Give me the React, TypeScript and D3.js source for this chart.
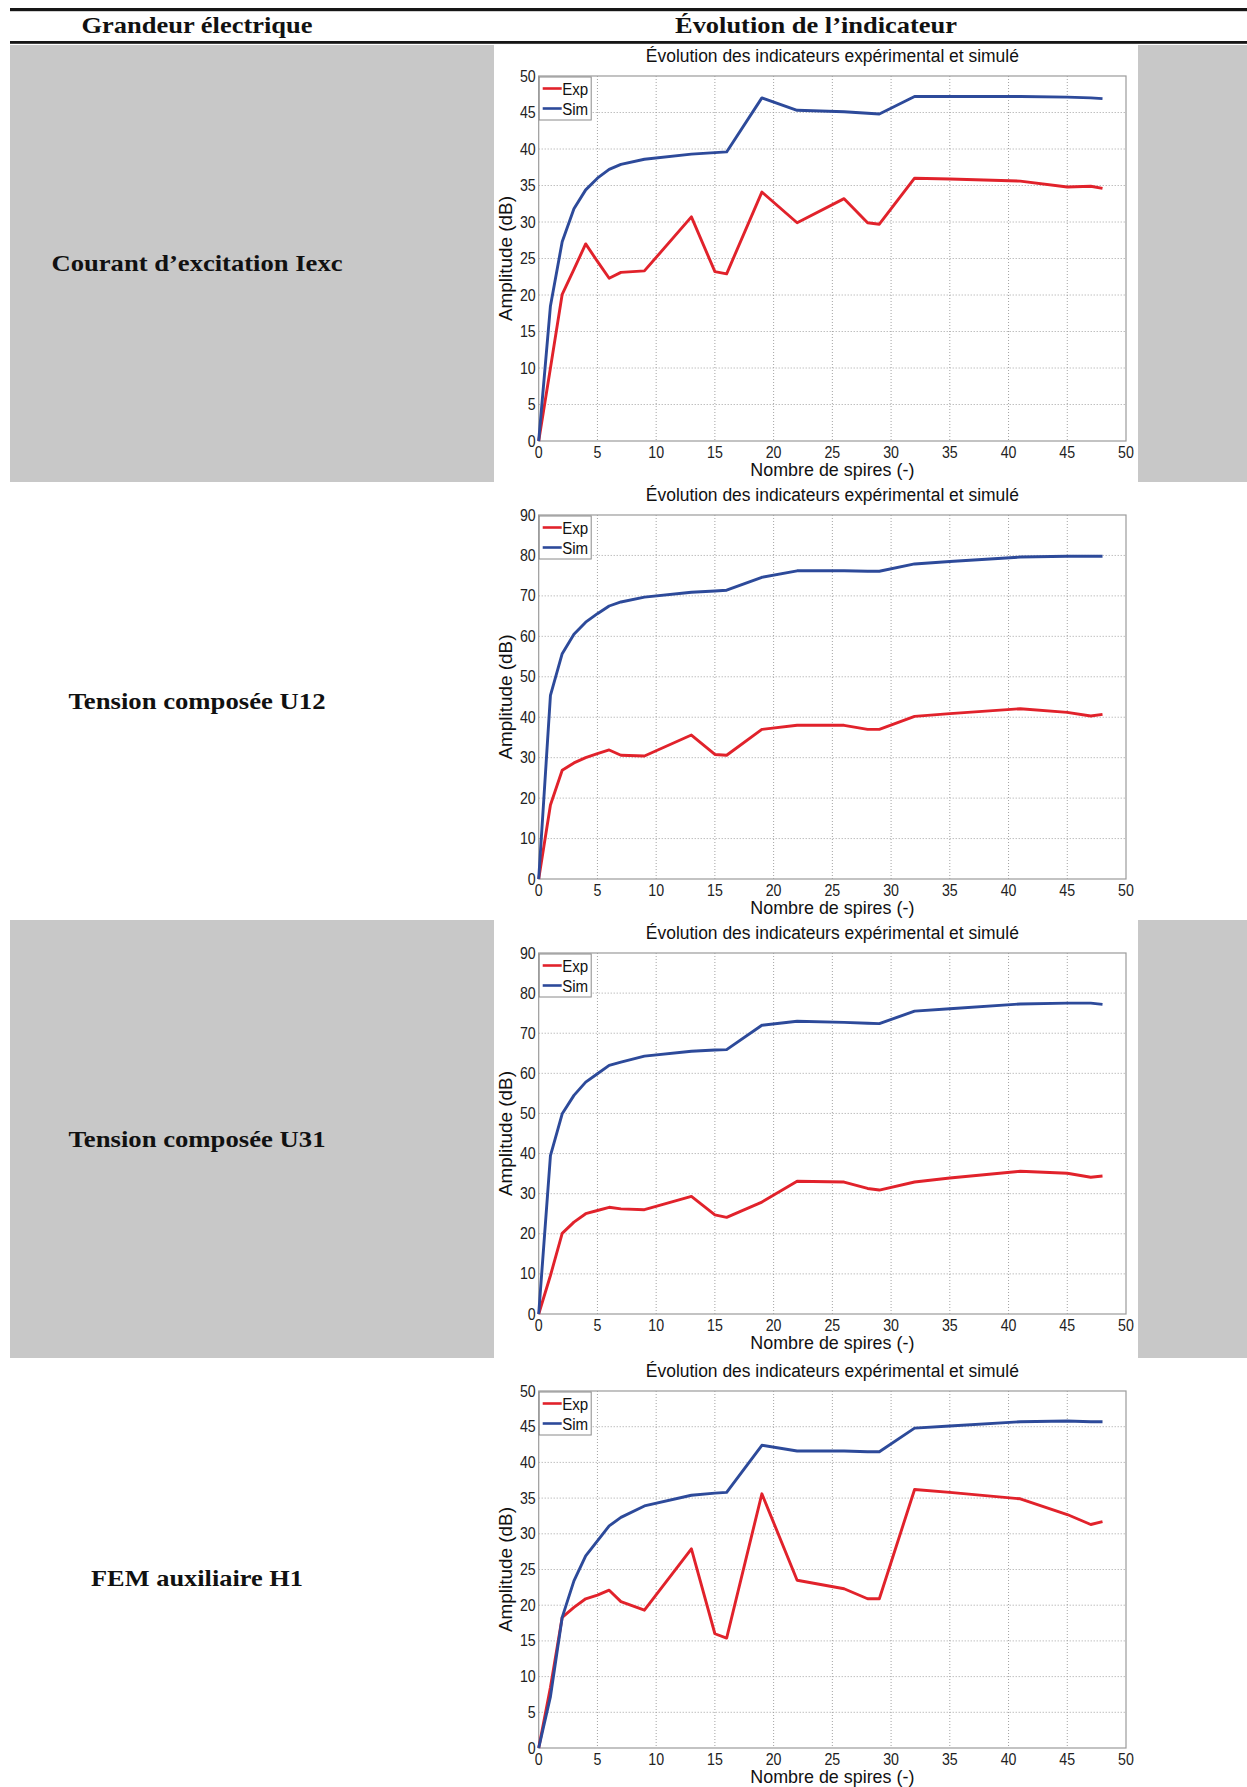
import React from "react";
import * as d3 from "d3";

// Number of short-circuited turns (x positions of measurements)
const SPIRES = [0, 1, 2, 3, 4, 5, 6, 7, 9, 13, 15, 16, 19, 22, 26, 28, 29, 32, 35, 41, 45, 47, 48];

const EXP_IEXC = [0, 10, 20.1, 23.5, 27, 24.6, 22.3, 23.1, 23.3, 30.7, 23.2, 22.9, 34.1, 29.9, 33.2, 29.9, 29.7, 36.0, 35.9, 35.6, 34.8, 34.9, 34.6];
const SIM_IEXC = [0, 18.5, 27.3, 31.8, 34.4, 36.0, 37.2, 37.9, 38.6, 39.3, 39.5, 39.6, 47.0, 45.3, 45.1, 44.9, 44.8, 47.2, 47.2, 47.2, 47.1, 47.0, 46.9];

const EXP_U12 = [0, 18.3, 26.9, 28.7, 30.0, 31.0, 31.9, 30.6, 30.4, 35.6, 30.8, 30.6, 37.0, 38.0, 38.0, 37.0, 37.0, 40.2, 40.9, 42.1, 41.2, 40.3, 40.7];
const SIM_U12 = [0, 45.4, 55.7, 60.5, 63.5, 65.6, 67.5, 68.5, 69.7, 70.9, 71.2, 71.4, 74.6, 76.2, 76.2, 76.1, 76.1, 77.9, 78.5, 79.6, 79.8, 79.8, 79.8];

const EXP_U31 = [0, 9.6, 20.1, 22.9, 25.0, 25.8, 26.6, 26.2, 26.0, 29.3, 24.7, 24.1, 27.9, 33.1, 32.9, 31.3, 30.9, 32.9, 33.9, 35.6, 35.1, 34.1, 34.4];
const SIM_U31 = [0, 39.5, 49.9, 54.5, 57.8, 59.9, 62.0, 62.8, 64.3, 65.5, 65.8, 65.9, 72.0, 73.0, 72.7, 72.5, 72.4, 75.5, 76.1, 77.3, 77.5, 77.5, 77.2];

const EXP_H1 = [0, 8.5, 18.3, 19.7, 20.9, 21.4, 22.1, 20.5, 19.3, 27.9, 16.0, 15.4, 35.6, 23.5, 22.3, 20.9, 20.9, 36.2, 35.8, 34.9, 32.7, 31.3, 31.7];
const SIM_H1 = [0, 7.2, 18.3, 23.4, 26.9, 29.0, 31.1, 32.3, 33.9, 35.4, 35.7, 35.8, 42.4, 41.6, 41.6, 41.5, 41.5, 44.8, 45.1, 45.7, 45.8, 45.7, 45.7];

const ROW_LABELS = ["Courant d\u2019excitation Iexc", "Tension compos\u00e9e U12", "Tension compos\u00e9e U31", "FEM auxiliaire H1"];
const HEADERS = ["Grandeur \u00e9lectrique", "\u00c9volution de l\u2019indicateur"];
const CHART_TITLE = "\u00c9volution des indicateurs exp\u00e9rimental et simul\u00e9";
const X_LABEL = "Nombre de spires (-)";
const Y_LABEL = "Amplitude (dB)";
const LEGEND = ["Exp", "Sim"];
const X_TICKS = [0, 5, 10, 15, 20, 25, 30, 35, 40, 45, 50];
const Y_TICKS_50 = [0, 5, 10, 15, 20, 25, 30, 35, 40, 45, 50];
const Y_TICKS_90 = [0, 10, 20, 30, 40, 50, 60, 70, 80, 90];

const SERIES = [
  { exp: EXP_IEXC, sim: SIM_IEXC, yMax: 50, yTicks: Y_TICKS_50 },
  { exp: EXP_U12, sim: SIM_U12, yMax: 90, yTicks: Y_TICKS_90 },
  { exp: EXP_U31, sim: SIM_U31, yMax: 90, yTicks: Y_TICKS_90 },
  { exp: EXP_H1, sim: SIM_H1, yMax: 50, yTicks: Y_TICKS_50 },
];

// layout
const W = 1247;
const H = 1787;
const PLOT_LEFT = 538.7;
const PLOT_RIGHT = 1126;
const PLOTS_Y = [
  [76, 441],
  [515, 879],
  [953, 1314],
  [1391, 1748],
];
const ROWS_Y = [45, 482, 920, 1358, 1787];
const GRAY_ROWS = [0, 2];
const RED = "#e1222b";
const BLUE = "#2d4a9a";
const GRAY = "#c8c8c8";
const SANS = "Liberation Sans, Arial, sans-serif";
const SERIF = "Liberation Serif, Times New Roman, serif";

function Chart({ idx }: { idx: number }) {
  const s = SERIES[idx];
  const [top, bottom] = PLOTS_Y[idx];
  const x = d3.scaleLinear().domain([0, 50]).range([PLOT_LEFT, PLOT_RIGHT]);
  const y = d3.scaleLinear().domain([0, s.yMax]).range([bottom, top]);
  const line = d3
    .line<number>()
    .x((_, i) => x(SPIRES[i]))
    .y((v) => y(v));
  const cx = (PLOT_LEFT + PLOT_RIGHT) / 2;
  return (
    <g>
      <rect x={PLOT_LEFT} y={top} width={PLOT_RIGHT - PLOT_LEFT} height={bottom - top} fill="#fff" />
      {X_TICKS.slice(1, -1).map((t) => (
        <line key={"gx" + t} x1={x(t)} x2={x(t)} y1={top} y2={bottom} stroke="#999" strokeWidth={0.9} strokeDasharray="1,2" />
      ))}
      {s.yTicks.slice(1, -1).map((t) => (
        <line key={"gy" + t} x1={PLOT_LEFT} x2={PLOT_RIGHT} y1={y(t)} y2={y(t)} stroke="#999" strokeWidth={0.9} strokeDasharray="1,2" />
      ))}
      <rect x={PLOT_LEFT} y={top} width={PLOT_RIGHT - PLOT_LEFT} height={bottom - top} fill="none" stroke="#9b9b9b" strokeWidth={1.2} />
      <path d={line(s.exp) || ""} fill="none" stroke={RED} strokeWidth={2.9} strokeLinejoin="round" />
      <path d={line(s.sim) || ""} fill="none" stroke={BLUE} strokeWidth={2.9} strokeLinejoin="round" />
      {X_TICKS.map((t) => (
        <text
          key={"xt" + t}
          x={x(t)}
          y={bottom + 16.5}
          textAnchor="middle"
          fontFamily={SANS}
          fontSize={16.5}
          fill="#222"
          textLength={String(t).length * 7.9}
          lengthAdjust="spacingAndGlyphs"
        >
          {t}
        </text>
      ))}
      {s.yTicks.map((t) => (
        <text
          key={"yt" + t}
          x={PLOT_LEFT - 3}
          y={y(t) + 5.5}
          textAnchor="end"
          fontFamily={SANS}
          fontSize={16.5}
          fill="#222"
          textLength={String(t).length * 7.9}
          lengthAdjust="spacingAndGlyphs"
        >
          {t}
        </text>
      ))}
      <text x={cx} y={top - 14} textAnchor="middle" fontFamily={SANS} fontSize={18} fill="#111" textLength={373} lengthAdjust="spacingAndGlyphs">
        {CHART_TITLE}
      </text>
      <text x={cx} y={bottom + 34.5} textAnchor="middle" fontFamily={SANS} fontSize={19} fill="#111" textLength={164} lengthAdjust="spacingAndGlyphs">
        {X_LABEL}
      </text>
      <text
        transform={`translate(${512},${(top + bottom) / 2}) rotate(-90)`}
        textAnchor="middle"
        fontFamily={SANS}
        fontSize={19}
        fill="#111"
        textLength={125}
        lengthAdjust="spacingAndGlyphs"
      >
        {Y_LABEL}
      </text>
      <rect x={PLOT_LEFT + 0.5} y={top + 1} width={52} height={43} fill="#fff" stroke="#8a8a8a" strokeWidth={1} />
      {LEGEND.map((lab, i) => (
        <g key={lab}>
          <line x1={PLOT_LEFT + 4} x2={PLOT_LEFT + 23} y1={top + 12.5 + i * 20} y2={top + 12.5 + i * 20} stroke={i === 0 ? RED : BLUE} strokeWidth={2.6} />
          <text x={PLOT_LEFT + 23.5} y={top + 18.5 + i * 20} fontFamily={SANS} fontSize={16} fill="#111" textLength={26} lengthAdjust="spacingAndGlyphs">
            {lab}
          </text>
        </g>
      ))}
    </g>
  );
}

export default function App() {
  return (
    <div style={{ position: "absolute", left: 0, top: 0, width: W, height: H, background: "#fff" }}>
      <svg width={W} height={H} viewBox={`0 0 ${W} ${H}`} style={{ display: "block" }}>
        <rect x={0} y={0} width={W} height={H} fill="#fff" />
        {GRAY_ROWS.map((r) => (
          <g key={"gr" + r}>
            <rect x={10} y={ROWS_Y[r]} width={484} height={ROWS_Y[r + 1] - ROWS_Y[r]} fill={GRAY} />
            <rect x={1138} y={ROWS_Y[r]} width={W - 1138} height={ROWS_Y[r + 1] - ROWS_Y[r]} fill={GRAY} />
          </g>
        ))}
        <rect x={10} y={8} width={W - 10} height={3.2} fill="#161616" />
        <rect x={10} y={41} width={W - 10} height={2.8} fill="#161616" />
        <text x={197} y={33} textAnchor="middle" fontFamily={SERIF} fontWeight="bold" fontSize={24} fill="#111" textLength={231} lengthAdjust="spacingAndGlyphs">
          {HEADERS[0]}
        </text>
        <text x={816} y={33} textAnchor="middle" fontFamily={SERIF} fontWeight="bold" fontSize={24} fill="#111" textLength={282} lengthAdjust="spacingAndGlyphs">
          {HEADERS[1]}
        </text>
        {ROW_LABELS.map((lab, i) => (
          <text
            key={lab}
            x={197}
            y={[263, 701, 1139, 1578][i] + 8}
            textAnchor="middle"
            fontFamily={SERIF}
            fontWeight="bold"
            fontSize={24}
            fill="#111"
            textLength={[291, 257, 257, 212][i]}
            lengthAdjust="spacingAndGlyphs"
          >
            {lab}
          </text>
        ))}
        {SERIES.map((_, i) => (
          <Chart key={i} idx={i} />
        ))}
      </svg>
    </div>
  );
}
